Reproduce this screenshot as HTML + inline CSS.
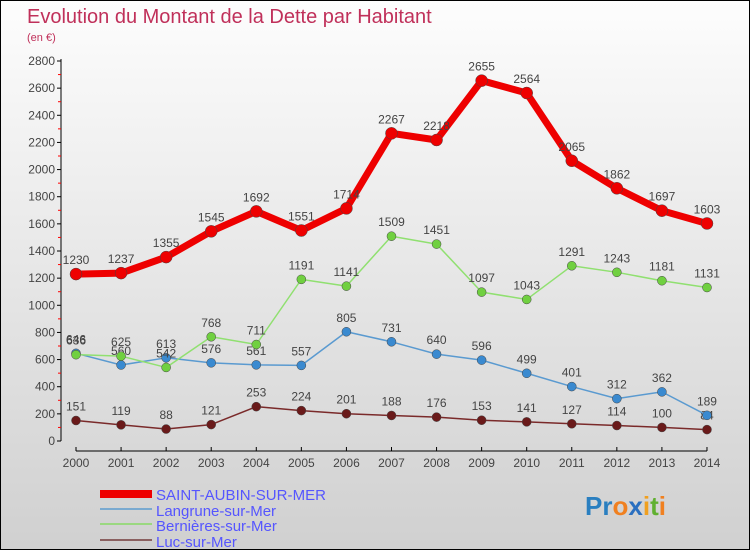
<!DOCTYPE html>
<html><head><meta charset="utf-8"><style>
body{margin:0}
#c{width:748px;height:548px;border:1px solid #000;background:linear-gradient(#fdfdfd,#d0d0d0);position:relative;overflow:hidden;font-family:"Liberation Sans",sans-serif}
svg text{font-family:"Liberation Sans",sans-serif}
</style></head><body>
<div id="c">
<svg id="s" width="748" height="548">
<text x="26" y="22" font-size="20" fill="#c0305a">Evolution du Montant de la Dette par Habitant</text>
<text x="26" y="40" font-size="11" fill="#c0305a">(en €)</text>
<g id="ax"></g><g id="plot"></g>
<g>
<rect x="99" y="489" width="52" height="8" fill="#e00"/>
<text x="155" y="499" font-size="15" fill="#55f" textLength="170">SAINT-AUBIN-SUR-MER</text>
<rect x="99" y="507" width="52" height="2" fill="#7aaad0"/>
<text x="155" y="515" font-size="15" fill="#55f">Langrune-sur-Mer</text>
<rect x="99" y="522" width="52" height="2" fill="#9ad880"/>
<text x="155" y="530" font-size="15" fill="#55f">Bernières-sur-Mer</text>
<rect x="99" y="538" width="52" height="2" fill="#8a6060"/>
<text x="155" y="546" font-size="15" fill="#55f">Luc-sur-Mer</text>
</g>
<text x="584" y="514" font-size="26" font-weight="bold"><tspan fill="#2a7fc0">Pr</tspan><tspan fill="#f08020">o</tspan><tspan fill="#2a6fc0">x</tspan><tspan fill="#f0a020">i</tspan><tspan fill="#60b030">t</tspan><tspan fill="#f08020">i</tspan></text>
</svg></div>
<script>
const years=[2000,2001,2002,2003,2004,2005,2006,2007,2008,2009,2010,2011,2012,2013,2014];
const yTicks=[0,200,400,600,800,1000,1200,1400,1600,1800,2000,2200,2400,2600,2800];
const saintAubin=[1230,1237,1355,1545,1692,1551,1714,2267,2218,2655,2564,2065,1862,1697,1603];
const langrune=[646,560,613,576,561,557,805,731,640,596,499,401,312,362,189];
const bernieres=[636,625,542,768,711,1191,1141,1509,1451,1097,1043,1291,1243,1181,1131];
const luc=[151,119,88,121,253,224,201,188,176,153,141,127,114,100,84];
const NS="http://www.w3.org/2000/svg";
const X=i=>75+i*45.07, Y=v=>440-v*380/2800;
function mk(t,a,p){const e=document.createElementNS(NS,t);for(const k in a)e.setAttribute(k,a[k]);p.appendChild(e);return e;}
const ax=document.getElementById('ax'),plot=document.getElementById('plot');
let l=mk('line',{x1:60,y1:58,x2:60,y2:440,stroke:'#000'},ax);


l=mk('line',{x1:75,y1:450,x2:706,y2:450,stroke:'#000'},ax);


yTicks.forEach(v=>{
 mk('line',{x1:56,y1:Y(v),x2:60,y2:Y(v),stroke:'#000'},ax);
 if(v<2800) mk('line',{x1:57,y1:Y(v+100),x2:60,y2:Y(v+100),stroke:'#f00'},ax);
 const t=mk('text',{x:54,y:Y(v)+4,'font-size':12,fill:'#444','text-anchor':'end'},ax);t.textContent=v;
 
 
});
years.forEach((y,i)=>{
 mk('line',{x1:X(i),y1:446,x2:X(i),y2:450,stroke:'#000'},ax);
 const t=mk('text',{x:X(i),y:466,'font-size':12,fill:'#444','text-anchor':'middle'},ax);t.textContent=y;
 
 
});
function series(data,color,dot,w,r,name){
 const g=mk('g',{},plot);
 
 
 mk('polyline',{points:data.map((v,i)=>X(i)+','+Y(v)).join(' '),fill:'none',stroke:color,'stroke-width':w,'stroke-linejoin':'round'},g);
 data.forEach((v,i)=>{
  const c=mk('circle',{cx:X(i),cy:Y(v),r:r,fill:dot,stroke:'#444','stroke-width':0.5},g);
  
  
  const t=mk('text',{x:X(i),y:Y(v)-10,'font-size':12,fill:'#444','text-anchor':'middle'},g);t.textContent=v;
  
  
 });
}
series(luc,'#7a2a2a','#6a1a1a',1.5,4.5,'luc');
series(langrune,'#5a9ad0','#3a8ad0',1.5,4.5,'langrune');
series(bernieres,'#90e070','#70d040',1.5,4.5,'bernieres');
series(saintAubin,'#ee0000','#ee0000',7,6,'saint-aubin');
</script>
</body></html>
